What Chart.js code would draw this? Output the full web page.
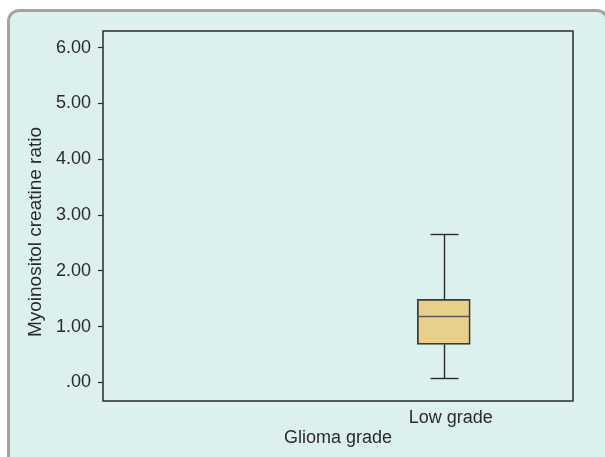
<!DOCTYPE html>
<html>
<head>
<meta charset="utf-8">
<script src="https://cdn.jsdelivr.net/npm/chart.js@4/dist/chart.umd.min.js"></script>
<style>
  html, body { margin: 0; padding: 0; background: #ffffff; width: 605px; height: 457px; overflow: hidden; }
  .card {
    position: absolute; left: 7px; top: 9px; width: 602px; height: 470px;
    box-sizing: border-box; background: #dcf0ed;
    border: 3px solid #a3a3a3; border-radius: 12px;
  }
  #chart { position: absolute; left: 0; top: 0; }
</style>
</head>
<body>
<div class="card"></div>
<canvas id="chart" width="605" height="457"></canvas>
<script>
// Boxplot of myoinositol / creatine ratio by glioma grade
const categories = ['Low grade'];
const whiskerLow = [0.07];
const q1 = [0.68];
const median = [1.18];
const q3 = [1.49];
const whiskerHigh = [2.66];
const yTicks = [0, 1, 2, 3, 4, 5, 6];
const yTitle = 'Myoinositol creatine ratio';
const xTitle = 'Glioma grade';

const ink = '#2b2b2b';
const boxLine = '#3a3a3a';
const boxFill = '#e8cf8a';
const font = "'Liberation Sans', Arial, Helvetica, sans-serif";

const lowerHalf = categories.map((c, i) => ({ x: i, y: [q1[i], median[i]] }));
const upperHalf = categories.map((c, i) => ({ x: i, y: [median[i], q3[i]] }));

// Whiskers and caps, placed with the chart's own scales
const whiskerPlugin = {
  id: 'whiskers',
  beforeDatasetsDraw(chart) {
    const { ctx, scales: { x, y } } = chart;
    ctx.save();
    ctx.strokeStyle = ink;
    ctx.lineWidth = 1.4;
    categories.forEach((c, i) => {
      const px = Math.round(x.getPixelForValue(i)) + 0.5;
      const capHalf = 14;
      const segs = [[whiskerLow[i], q1[i]], [q3[i], whiskerHigh[i]]];
      segs.forEach(([a, b]) => {
        ctx.beginPath();
        ctx.moveTo(px, y.getPixelForValue(a));
        ctx.lineTo(px, y.getPixelForValue(b));
        ctx.stroke();
      });
      [whiskerLow[i], whiskerHigh[i]].forEach(v => {
        const py = Math.round(y.getPixelForValue(v)) + 0.5;
        ctx.beginPath();
        ctx.moveTo(px - capHalf, py);
        ctx.lineTo(px + capHalf, py);
        ctx.stroke();
      });
    });
    ctx.restore();
  }
};

// Frame around the plotting area, plus the vertical axis title
// (set a little below the middle of the axis)
const framePlugin = {
  id: 'frame',
  afterDatasetsDraw(chart) {
    const { ctx, chartArea: a } = chart;
    ctx.save();
    ctx.strokeStyle = ink;
    ctx.lineWidth = 1.5;
    ctx.strokeRect(a.left, a.top, a.right - a.left, a.bottom - a.top);
    ctx.restore();
  },
  afterDraw(chart) {
    const { ctx, chartArea: a } = chart;
    ctx.save();
    ctx.translate(36, (a.top + a.bottom) / 2 + 16);
    ctx.rotate(-Math.PI / 2);
    ctx.fillStyle = ink;
    ctx.font = "19px " + font;
    ctx.textAlign = 'center';
    ctx.textBaseline = 'middle';
    ctx.fillText(yTitle, 0, 0);
    ctx.restore();
  }
};

new Chart(document.getElementById('chart'), {
  type: 'bar',
  data: {
    datasets: [
      {
        data: lowerHalf,
        backgroundColor: boxFill,
        borderColor: boxLine,
        borderWidth: { left: 1.8, right: 1.8, bottom: 1.8, top: 1 },
        borderSkipped: false,
        barThickness: 53,
        grouped: false
      },
      {
        data: upperHalf,
        backgroundColor: boxFill,
        borderColor: boxLine,
        borderWidth: { left: 1.8, right: 1.8, top: 1.8, bottom: 1 },
        borderSkipped: false,
        barThickness: 53,
        grouped: false
      }
    ]
  },
  options: {
    responsive: false,
    animation: false,
    devicePixelRatio: 1,
    layout: { padding: { left: 0, top: 31, right: 32, bottom: 0 } },
    plugins: { legend: { display: false }, tooltip: { enabled: false } },
    scales: {
      x: {
        type: 'linear',
        offset: false,
        min: -1.45,
        max: 0.55,
        afterBuildTicks(scale) { scale.ticks = categories.map((c, i) => ({ value: i })); },
        afterFit(scale) { scale.height = 56; },
        grid: { display: false },
        border: { display: false },
        ticks: {
          callback: (v) => categories[v] ?? '',
          color: ink,
          font: { family: font, size: 18 },
          padding: -2,
          labelOffset: 7,
          maxRotation: 0
        },
        title: {
          display: true,
          text: xTitle,
          color: ink,
          font: { family: font, size: 18 },
          padding: { top: 0, bottom: 8 }
        }
      },
      y: {
        min: -0.335,
        max: 6.30,
        afterBuildTicks(scale) { scale.ticks = yTicks.map(v => ({ value: v })); },
        afterFit(scale) { scale.width = 103; },
        grid: {
          display: true,
          drawOnChartArea: false,
          drawTicks: true,
          tickLength: 5,
          tickColor: ink,
          tickWidth: 1.2
        },
        border: { display: false },
        ticks: {
          callback: (v) => v === 0 ? '.00' : v.toFixed(2),
          color: ink,
          font: { family: font, size: 18 },
          padding: 7
        },
        title: { display: false }
      }
    }
  },
  plugins: [whiskerPlugin, framePlugin]
});
</script>
</body>
</html>
